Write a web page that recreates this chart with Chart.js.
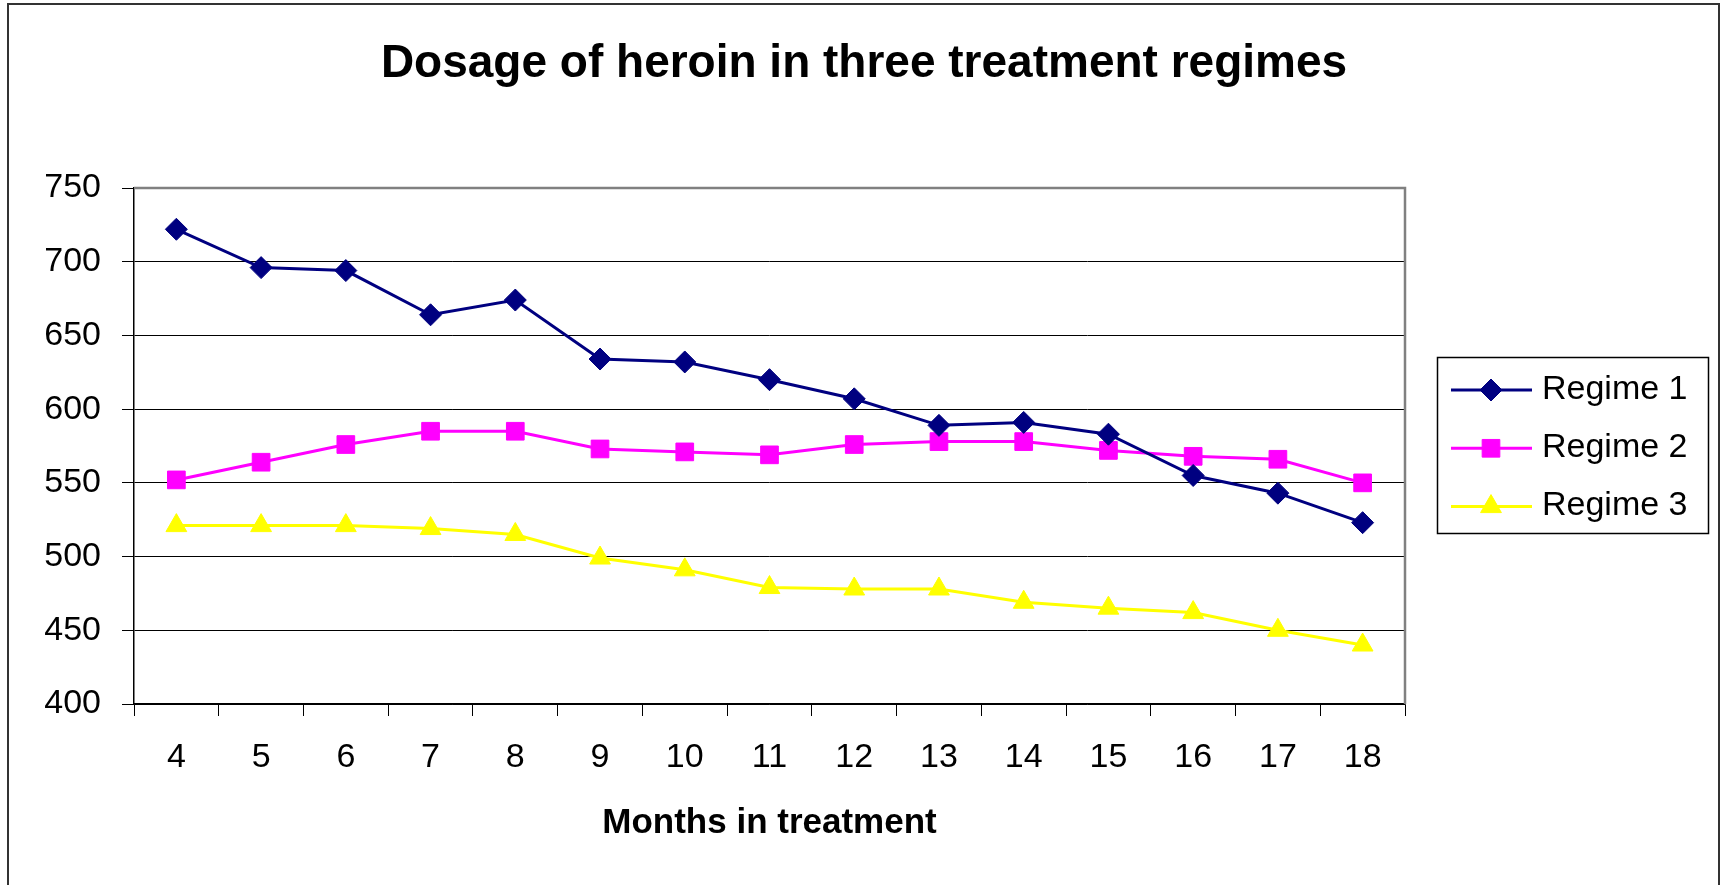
<!DOCTYPE html>
<html>
<head>
<meta charset="utf-8">
<script src="https://cdn.jsdelivr.net/npm/chart.js@4"></script>
<style>
  html, body { margin: 0; padding: 0; background: #fff; }
  #wrap { width: 1722px; height: 885px; position: relative; }
</style>
</head>
<body>
<div id="wrap"><canvas id="dosageChart"></canvas></div>
<script>
// Mois de traitement (axe X)
const months = ["4", "5", "6", "7", "8", "9", "10", "11", "12", "13", "14", "15", "16", "17", "18"];

// Dosage moyen par régime
const regime1 = [722, 696, 694, 664, 674, 634, 632, 620, 607, 589, 591, 583, 555, 543, 523];
const regime2 = [552, 564, 576, 585, 585, 573, 571, 569, 576, 578, 578, 572, 568, 566, 550];
const regime3 = [521, 521, 521, 519, 515, 499, 491, 479, 478, 478, 469, 465, 462, 450, 440];

const seriesNames = ["Regime 1", "Regime 2", "Regime 3"];
const seriesColors = ["#000080", "#FF00FF", "#FFFF00"];
const seriesMarkers = ["rectRot", "rect", "triangle"];
const markerSizes = [11, 12.5, 12];

const yTicks = { min: 400, max: 750, step: 50 };

const FONT = "'Liberation Sans', Arial, sans-serif";

// Cadre extérieur + bordure grise de la zone de tracé
const framePlugin = {
  id: "frame",
  beforeDatasetsDraw(chart) {
    const { ctx, chartArea: a } = chart;
    ctx.save();
    ctx.strokeStyle = "#808080";
    ctx.lineWidth = 2.5;
    ctx.beginPath();
    ctx.moveTo(a.left, a.top);
    ctx.lineTo(a.right, a.top);
    ctx.lineTo(a.right, a.bottom);
    ctx.stroke();
    ctx.restore();
  },
  afterDraw(chart) {
    const { ctx } = chart;
    ctx.save();
    ctx.strokeStyle = "#333";
    ctx.lineWidth = 2;
    ctx.beginPath();
    ctx.moveTo(8, 900);
    ctx.lineTo(8, 4);
    ctx.lineTo(1719, 4);
    ctx.lineTo(1719, 900);
    ctx.stroke();
    ctx.restore();
  },
};

// Légende style Excel : trait + marqueur
const excelLegend = {
  id: "excelLegend",
  afterDraw(chart) {
    const { ctx } = chart;
    const box = { x: 1437.5, y: 357.5, w: 271, h: 176 };
    ctx.save();
    ctx.strokeStyle = "#000";
    ctx.lineWidth = 1.5;
    ctx.strokeRect(box.x, box.y, box.w, box.h);
    chart.data.datasets.forEach((ds, i) => {
      const cy = 390 + i * 58.3;
      ctx.strokeStyle = ds.borderColor;
      ctx.lineWidth = 3;
      ctx.beginPath();
      ctx.moveTo(1451, cy);
      ctx.lineTo(1532, cy);
      ctx.stroke();
      ctx.fillStyle = ds.pointBackgroundColor;
      ctx.strokeStyle = ds.pointBorderColor;
      ctx.lineWidth = 1;
      Chart.helpers.drawPoint(ctx, { pointStyle: ds.pointStyle, radius: ds.pointRadius, rotation: 0, borderWidth: 1 }, 1491, cy);
      ctx.fillStyle = "#000";
      ctx.font = "34px " + FONT;
      ctx.textAlign = "left";
      ctx.textBaseline = "alphabetic";
      ctx.fillText(ds.label, 1542, cy + 8.5);
    });
    ctx.restore();
  },
};

const allSeries = [regime1, regime2, regime3];

new Chart(document.getElementById("dosageChart"), {
  type: "line",
  data: {
    labels: months,
    datasets: allSeries.map((vals, i) => ({
      label: seriesNames[i],
      data: vals,
      borderColor: seriesColors[i],
      backgroundColor: seriesColors[i],
      pointBackgroundColor: seriesColors[i],
      pointBorderColor: seriesColors[i],
      pointStyle: seriesMarkers[i],
      pointRadius: markerSizes[i],
      pointHoverRadius: markerSizes[i],
      pointBorderWidth: 1,
      borderWidth: 3,
      tension: 0,
      fill: false,
    })),
  },
  options: {
    responsive: true,
    maintainAspectRatio: false,
    animation: false,
    layout: { padding: { left: 6, right: 0, top: 0, bottom: 0 } },
    plugins: {
      legend: { display: false },
      tooltip: { enabled: false },
      title: {
        display: true,
        text: "Dosage of heroin in three treatment regimes",
        color: "#000",
        font: { family: FONT, size: 46, weight: "bold", lineHeight: 1.2 },
        padding: { top: 36.4, bottom: 96.4 },
      },
    },
    scales: {
      x: {
        offset: true,
        grid: { offset: true, drawOnChartArea: false, drawTicks: true, tickLength: 12, color: "#000", lineWidth: 1 },
        border: { display: true, color: "#000", width: 1.5 },
        ticks: { color: "#000", font: { family: FONT, size: 34 }, padding: 21, maxRotation: 0, autoSkip: false },
        title: {
          display: true,
          text: "Months in treatment",
          color: "#000",
          font: { family: FONT, size: 35, weight: "bold", lineHeight: 1.2 },
          padding: { top: 0, bottom: 41 },
        },
        afterFit: (s) => { s.height = 181; },
      },
      y: {
        min: yTicks.min,
        max: yTicks.max,
        grid: { color: "#000", lineWidth: 1, tickLength: 12, drawTicks: true },
        border: { display: true, color: "#000", width: 1.5 },
        ticks: { stepSize: yTicks.step, color: "#000", font: { family: FONT, size: 34 }, padding: 21 },
        afterFit: (s) => { s.width = 128; },
      },
      // axe fantôme pour réserver la place de la légende à droite
      yR: {
        position: "right",
        display: true,
        grid: { display: false, drawTicks: false },
        border: { display: false },
        ticks: { display: false },
        afterFit: (s) => { s.width = 317; },
      },
    },
  },
  plugins: [framePlugin, excelLegend],
});
</script>
</body>
</html>
